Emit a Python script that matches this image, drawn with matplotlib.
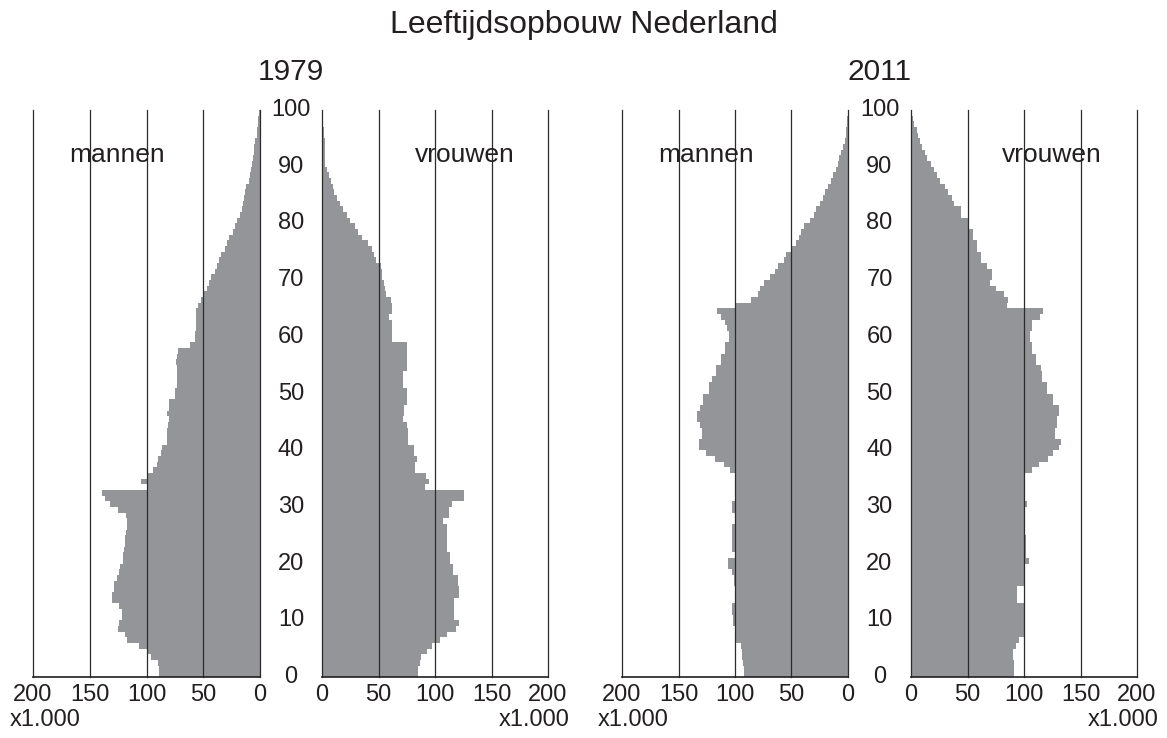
import numpy as np
import matplotlib
matplotlib.use("Agg")
import matplotlib.pyplot as plt
from matplotlib import transforms

plt.rcParams['font.family'] = ['Liberation Sans', 'DejaVu Sans']

ages = np.arange(0, 100)
age_edges = np.arange(0, 101)

men_1979 = [89, 89, 90, 96, 99, 107, 117, 119, 125, 124,
            122, 122, 124, 130, 130, 129, 129, 126, 124, 123,
            121, 121, 120, 119, 119, 118, 117, 117, 118, 125,
            132, 137, 139, 100, 105, 99, 94, 91, 90, 87,
            86, 82, 82, 82, 81, 80, 82, 80, 80, 75,
            75, 73, 73, 73, 73, 74, 73, 72, 62, 57,
            57, 56, 56, 56, 56, 55, 52, 49, 47, 45,
            43, 40, 38, 36, 34, 31, 29, 27, 24, 22,
            20, 18, 16, 15, 14, 13, 12, 10, 9, 8,
            7, 6, 5, 5, 4, 3, 2.5, 2, 1.5, 1]

women_1979 = [85, 85, 87, 88, 93, 97, 104, 111, 119, 121,
              117, 117, 117, 117, 121, 121, 120, 120, 116, 116,
              113, 113, 111, 111, 111, 111, 111, 107, 112, 112,
              115, 126, 126, 91, 95, 92, 82, 82, 84, 81,
              81, 76, 76, 76, 75, 72, 73, 73, 75, 75,
              75, 72, 72, 72, 75, 75, 75, 75, 75, 62,
              62, 62, 62, 59, 62, 62, 61, 57, 56, 55,
              53, 53, 52, 48, 46, 44, 41, 35, 32, 29,
              25, 22, 19, 16, 13, 11, 10, 8, 6, 4,
              3, 3, 2.5, 2.5, 2.5, 2, 1.5, 1, 0.5, 0.3]

men_2011 = [92, 92, 93, 94, 94, 95, 100, 100, 100, 102,
            102, 103, 103, 100, 100, 100, 101, 101, 103, 106,
            106, 100, 103, 103, 103, 103, 103, 100, 100, 103,
            103, 100, 100, 100, 100, 100, 104, 110, 118, 126,
            132, 132, 129, 129, 131, 134, 134, 131, 128, 128,
            123, 123, 120, 117, 117, 112, 112, 109, 109, 105,
            105, 107, 109, 112, 116, 100, 86, 80, 78, 74,
            69, 65, 62, 57, 55, 50, 46, 43, 42, 39,
            34, 30, 28, 25, 22, 20, 18, 15, 13, 11,
            9, 8, 6, 4, 3, 2, 1.5, 1, 0.6, 0.3]

women_2011 = [91, 91, 91, 90, 90, 93, 96, 100, 100, 100,
              100, 100, 100, 94, 94, 94, 100, 100, 100, 100,
              104, 102, 102, 102, 102, 100, 100, 100, 100, 100,
              103, 100, 100, 100, 100, 100, 107, 113, 121, 126,
              131, 133, 127, 127, 129, 129, 131, 131, 126, 126,
              120, 120, 116, 116, 115, 111, 111, 107, 107, 105,
              105, 107, 107, 114, 117, 85, 86, 82, 75, 70,
              72, 72, 67, 62, 62, 58, 58, 55, 55, 50,
              50, 44, 44, 38, 36, 33, 30, 26, 23, 20,
              18, 14, 12, 10, 8, 6.5, 5, 3, 2, 1]

x_ticks = [0, 50, 100, 150, 200]
y_ticks = [0, 10, 20, 30, 40, 50, 60, 70, 80, 90, 100]
years = ['1979', '2011']
sex_labels = ['mannen', 'vrouwen']
title = 'Leeftijdsopbouw Nederland'
unit = 'x1.000'

W, H = 1167, 738
fig = plt.figure(figsize=(W / 100, H / 100), dpi=100)

BAR = '#939598'
LINE = '#2b2b2b'
TXT = '#231f20'

def px_axes(x0, x1, y0=110, y1=677):
    return fig.add_axes([x0 / W, 1 - y1 / H, (x1 - x0) / W, (y1 - y0) / H])

panels = [
    (33, 260, men_1979, True),
    (322, 548, women_1979, False),
    (622, 848, men_2011, True),
    (911, 1137, women_2011, False),
]

axes = []
for x0, x1, vals, is_men in panels:
    ax = px_axes(x0, x1)
    ax.stairs(vals, age_edges, orientation='horizontal', fill=True,
              color=BAR, linewidth=0, zorder=1)
    for t in x_ticks:
        ax.axvline(t, color=LINE, lw=0.9, zorder=3, clip_on=False)
    if is_men:
        ax.set_xlim(200, 0)
    else:
        ax.set_xlim(0, 200)
    ax.set_ylim(0, 100)
    for s in ['top', 'left', 'right']:
        ax.spines[s].set_visible(False)
    ax.spines['bottom'].set_color(TXT)
    ax.spines['bottom'].set_linewidth(1.2)
    ax.spines['bottom'].set_zorder(4)
    ax.set_xticks(x_ticks)
    ax.set_xticklabels([str(t) for t in x_ticks])
    ax.tick_params(axis='x', length=0, pad=5, labelsize=17, labelcolor=TXT)
    ax.set_yticks([])
    ax.patch.set_alpha(0)
    axes.append(ax)

# age labels between panels
for (ax_m, ax_w), year in zip([(axes[0], axes[1]), (axes[2], axes[3])], years):
    xm = (ax_m.get_position().x1 + ax_w.get_position().x0) / 2
    tr = transforms.blended_transform_factory(fig.transFigure, ax_m.transData)
    for a in y_ticks:
        fig.text(xm, a, str(a), transform=tr, ha='center', va='center',
                 fontsize=17, color=TXT)
    fig.text(xm, 1 - 72 / H, year, ha='center', va='center', fontsize=21.5, color=TXT)

# sex labels
label_pos = [(117, 'mannen'), (465, 'vrouwen'), (706, 'mannen'), (1052, 'vrouwen')]
for xc, lab in label_pos:
    fig.text(xc / W, 1 - 155 / H, lab, ha='center', va='center', fontsize=19, color=TXT)

# unit labels
fig.text(10 / W, 1 - 720 / H, unit, ha='left', va='center', fontsize=17, color=TXT)
fig.text(570 / W, 1 - 720 / H, unit, ha='right', va='center', fontsize=17, color=TXT)
fig.text(598 / W, 1 - 720 / H, unit, ha='left', va='center', fontsize=17, color=TXT)
fig.text(1159 / W, 1 - 720 / H, unit, ha='right', va='center', fontsize=17, color=TXT)

fig.text(0.5, 1 - 25 / H, title, ha='center', va='center', fontsize=23, color=TXT)

fig.savefig('out.png', dpi=100, facecolor='white')
